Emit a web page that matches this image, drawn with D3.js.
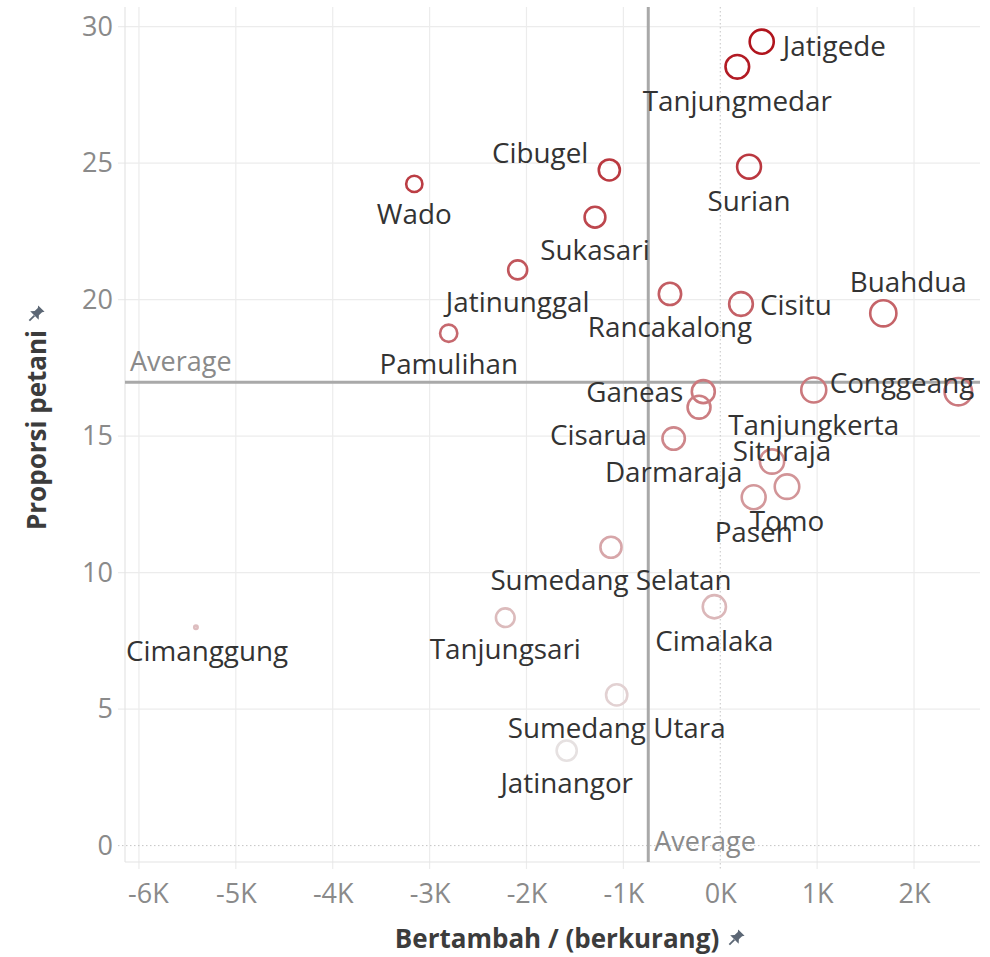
<!DOCTYPE html>
<html>
<head>
<meta charset="utf-8">
<script src="https://cdn.jsdelivr.net/npm/d3@7"></script>
<style>
  body { margin: 0; background: #fff; }
  text { font-family: "Open Sans", "Noto Sans", sans-serif; }
</style>
</head>
<body>
<svg id="chart" width="990" height="957"></svg>
<script>
// kecamatan di Sumedang
let districts = ['Jatigede', 'Tanjungmedar', 'Surian', 'Cibugel', 'Wado', 'Sukasari', 'Jatinunggal',
  'Rancakalong', 'Cisitu', 'Buahdua', 'Pamulihan', 'Tanjungkerta', 'Conggeang', 'Ganeas', 'Cisarua',
  'Darmaraja', 'Situraja', 'Tomo', 'Paseh', 'Sumedang Selatan', 'Tanjungsari', 'Cimalaka',
  'Sumedang Utara', 'Jatinangor', 'Cimanggung']
// Bertambah / (berkurang)
let growth = [428, 176, 297, -1145, -3158, -1293, -2091,
  -519, 214, 1683, -2803, 965, 2457, -175, -219,
  -481, 534, 689, 345, -1128, -2219, -61,
  -1069, -1585, -5412]
// Proporsi petani
let farmerShare = [29.45, 28.53, 24.87, 24.75, 24.24, 23.02, 21.09,
  20.21, 19.84, 19.50, 18.77, 16.69, 16.63, 16.63, 16.06,
  14.91, 14.07, 13.15, 12.76, 10.93, 8.35, 8.75,
  5.52, 3.48, 8.0]
let avgGrowth = -743
let avgShare = 16.97
let xTicks = [-6000, -5000, -4000, -3000, -2000, -1000, 0, 1000, 2000]
let yTicks = [0, 5, 10, 15, 20, 25, 30]
let xDomain = [-6144, 2681]
let yDomain = [-0.6, 30.72]

// label placement tweaks (anchor, dx, dy) where Tableau moved the label off the default spot
let labelPlace = {
  Jatigede: ['start', 21, 14],
  Cibugel: ['end', -21, -7],
  Cisitu: ['start', 19, 11],
  Buahdua: ['middle', 25, -21],
  Conggeang: ['end', 16, 1],
  Ganeas: ['end', -20, 10],
  Cisarua: ['end', -52, 38],
  Situraja: ['middle', 10, -1]
}

let L = 125, R = 980, T = 7, B = 862
let svg = d3.select('#chart')

let x = d3.scaleLinear().domain(xDomain).range([L, R])
let y = d3.scaleLinear().domain(yDomain).range([B, T])

let data = districts.map((d, i) => ({name: d, gx: growth[i], py: farmerShare[i]}))

let gMin = d3.min(growth), gMax = d3.max(growth)
let size = d3.scaleSqrt().domain([0, gMax - gMin]).range([3, 15])
let color = d3.scaleLinear().domain(d3.extent(farmerShare)).range(['#e6e1e1', '#b0141d'])
let sw = 2.6

// grid
svg.append('g')
  .selectAll('line')
  .data(xTicks.filter(d => d !== 0))
  .join('line')
  .attr('x1', d => x(d)).attr('x2', d => x(d))
  .attr('y1', T).attr('y2', B + 7)
  .attr('stroke', '#ececec').attr('stroke-width', 1.2)
svg.append('g')
  .selectAll('line')
  .data(yTicks.filter(d => d !== 0))
  .join('line')
  .attr('x1', L - 7).attr('x2', R)
  .attr('y1', d => y(d)).attr('y2', d => y(d))
  .attr('stroke', '#ececec').attr('stroke-width', 1.2)

// zero lines, dotted
svg.append('line')
  .attr('x1', x(0)).attr('x2', x(0)).attr('y1', T).attr('y2', B + 7)
  .attr('stroke', '#c4c4c4').attr('stroke-width', 1).attr('stroke-dasharray', '1.5,2.5')
svg.append('line')
  .attr('x1', L - 7).attr('x2', R).attr('y1', y(0)).attr('y2', y(0))
  .attr('stroke', '#c4c4c4').attr('stroke-width', 1).attr('stroke-dasharray', '1.5,2.5')

// pane border
svg.append('line').attr('x1', L).attr('x2', L).attr('y1', T).attr('y2', B)
  .attr('stroke', '#e4e4e4').attr('stroke-width', 1.2)
svg.append('line').attr('x1', L).attr('x2', R).attr('y1', B).attr('y2', B)
  .attr('stroke', '#e4e4e4').attr('stroke-width', 1.2)

// axes
let xAxis = svg.append('g')
  .attr('transform', `translate(0,${B})`)
  .call(d3.axisBottom(x).tickValues(xTicks).tickSize(0).tickPadding(0)
    .tickFormat(d => (d / 1000) + 'K'))
let yAxis = svg.append('g')
  .attr('transform', `translate(${L},0)`)
  .call(d3.axisLeft(y).tickValues(yTicks).tickSize(0).tickPadding(12))
xAxis.select('.domain').remove()
yAxis.select('.domain').remove()
xAxis.selectAll('text')
  .attr('y', 41).attr('dy', 0)
  .attr('font-size', 27).attr('fill', '#8a8a8a')
  .attr('font-family', '"Open Sans", sans-serif')
  .each(function () {
    // first tick label is pushed inside the pane edge
    let bb = this.getBBox()
    let tx = this.parentNode.transform.baseVal.consolidate().matrix.e
    if (tx + bb.x < L + 3) d3.select(this).attr('x', L + 3 - (tx + bb.x))
  })
yAxis.selectAll('text')
  .attr('font-size', 27).attr('fill', '#8a8a8a')
  .attr('font-family', '"Open Sans", sans-serif')

// average reference lines
svg.append('line')
  .attr('x1', L).attr('x2', R).attr('y1', y(avgShare)).attr('y2', y(avgShare))
  .attr('stroke', '#a9a9a9').attr('stroke-width', 3)
svg.append('line')
  .attr('x1', x(avgGrowth)).attr('x2', x(avgGrowth)).attr('y1', T).attr('y2', B)
  .attr('stroke', '#a9a9a9').attr('stroke-width', 3)
svg.append('text')
  .text('Average')
  .attr('x', L + 5).attr('y', y(avgShare) - 11)
  .attr('font-size', 27).attr('fill', '#8a8a8a')
svg.append('text')
  .text('Average')
  .attr('x', x(avgGrowth) + 6).attr('y', B - 11)
  .attr('font-size', 27).attr('fill', '#8a8a8a')

// marks
svg.append('g')
  .selectAll('circle')
  .data(data)
  .join('circle')
  .attr('cx', d => x(d.gx))
  .attr('cy', d => y(d.py))
  .attr('r', d => Math.max(0.9, size(d.gx - gMin) - sw / 2))
  .attr('fill', 'none')
  .attr('stroke', d => color(d.py))
  .attr('stroke-width', sw)

// labels
let labels = svg.append('g')
  .selectAll('text')
  .data(data)
  .join('text')
  .text(d => d.name)
  .attr('font-size', 27.8)
  .attr('fill', '#333')
  .each(function (d) {
    let p = labelPlace[d.name]
    let rOut = size(d.gx - gMin)
    if (!p) p = ['middle', 0, rOut + 31]
    d3.select(this)
      .attr('text-anchor', p[0])
      .attr('x', x(d.gx) + p[1])
      .attr('y', y(d.py) + p[2])
    // keep label inside the pane like Tableau does
    let bb = this.getBBox()
    if (bb.x < L + 1) d3.select(this).attr('x', +d3.select(this).attr('x') + (L + 1 - bb.x))
    if (bb.x + bb.width > R - 4) d3.select(this).attr('x', +d3.select(this).attr('x') - (bb.x + bb.width - R + 4))
  })

// pushpin glyph
function pin(px, py) {
  let g = svg.append('g').attr('transform', `translate(${px},${py}) rotate(45)`)
  g.append('path')
    .attr('d', 'M-4.5,-9 L4.5,-9 L3,-7 L3,-2.5 L6,0.8 L-6,0.8 L-3,-2.5 L-3,-7 Z')
    .attr('fill', '#5c6775')
  g.append('line')
    .attr('x1', 0).attr('y1', 0.8).attr('x2', 0).attr('y2', 8)
    .attr('stroke', '#5c6775').attr('stroke-width', 1.8)
}

// axis titles
svg.append('text')
  .text('Proporsi petani')
  .attr('transform', 'translate(46,430) rotate(-90)')
  .attr('text-anchor', 'middle')
  .attr('font-size', 26).attr('font-weight', 'bold').attr('fill', '#3c3c3c')
pin(35, 315)
svg.append('text')
  .text('Bertambah / (berkurang)')
  .attr('x', 557).attr('y', 948)
  .attr('text-anchor', 'middle')
  .attr('font-size', 26).attr('font-weight', 'bold').attr('fill', '#3c3c3c')
pin(735, 939)
</script>
</body>
</html>
